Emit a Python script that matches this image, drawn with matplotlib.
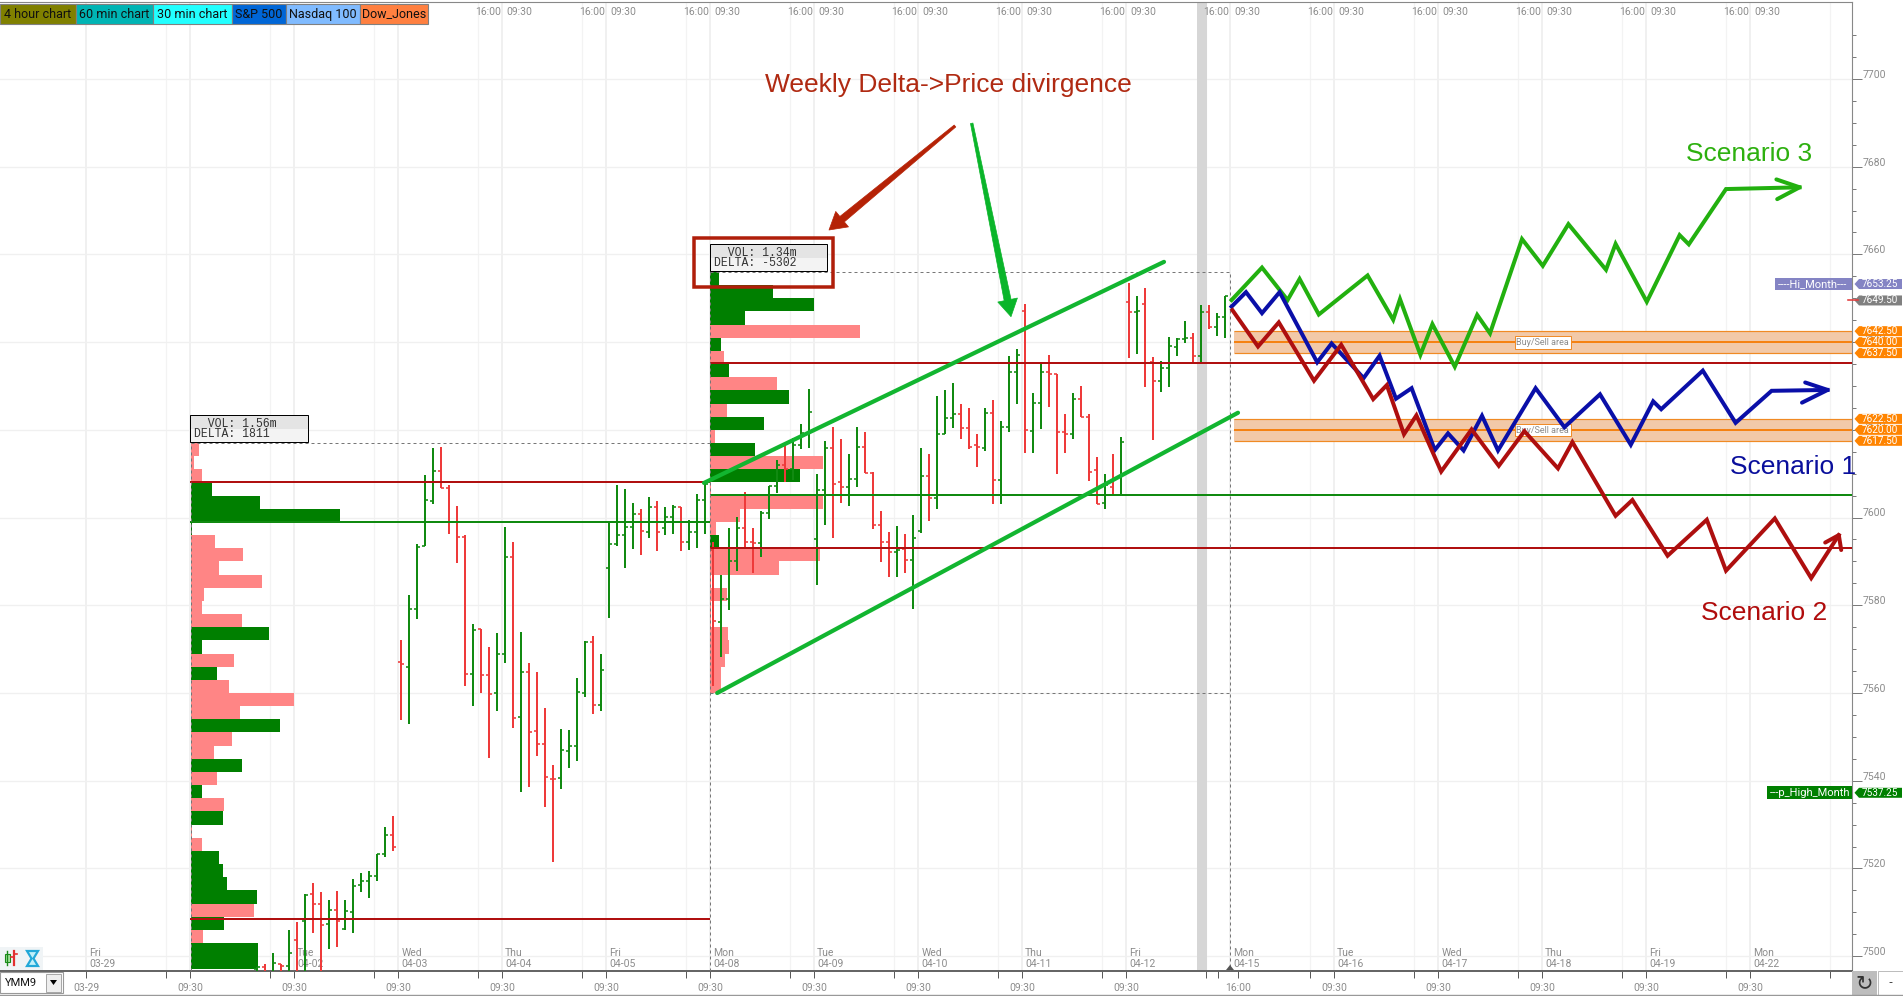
import matplotlib
matplotlib.use("Agg")
import matplotlib.pyplot as plt
from matplotlib.patches import Rectangle, Polygon
import numpy as np

# 30 min bars, 13 per session; the first one seen is bar 8 of the 04-01 session
first_bar = 8
opens = [7497, 7497.5, 7496, 7498.3, 7497.8,
    7503.6, 7508.1, 7514.2, 7512, 7507.3, 7510.5, 7506.2, 7510, 7516.2, 7517.1, 7518.2, 7523.3, 7527.7,
    7567.1, 7566, 7579.2, 7593.6, 7603.7, 7610.7, 7606.8, 7599, 7595.6, 7564.4, 7574.6, 7564, 7560,
    7569, 7591, 7554.5, 7564.8, 7551.3, 7548.4, 7540.4, 7540.6, 7546.8, 7548, 7560, 7571.6, 7557.3,
    7588.4, 7594, 7596.1, 7597.8, 7600.8, 7596.8, 7602.3, 7597.6, 7600.2, 7602.4, 7594.5, 7596.8, 7604.1,
    7592.6, 7576.3, 7581.4, 7590.2, 7597.6, 7594.5, 7594.1, 7601, 7607.3, 7612, 7611, 7616.6, 7619.2,
    7595.1, 7606.3, 7615.9, 7608, 7607, 7608.9, 7616.2, 7610.2, 7598.3, 7594.5, 7592.2, 7592.8, 7590.3,
    7597, 7609.5, 7604.4, 7619, 7622.6, 7623.6, 7620.5, 7616.6, 7615.8, 7623.8, 7608.6, 7620.7, 7633.3,
    7647, 7619.7, 7626.2, 7633.1, 7632.7, 7619.6, 7619.1, 7627, 7623, 7610.8, 7603.3, 7607, 7605.1,
    7649.2, 7646.9, 7648.7, 7635.5, 7631.1, 7634, 7639, 7640.7, 7640.9, 7636.8, 7646.8, 7643.5, 7645.8]
highs = [7497.5, 7498.3, 7500.7, 7498.3, 7505.9,
    7507.8, 7514.2, 7516.6, 7514.7, 7512.9, 7514.9, 7512.9, 7517.5, 7519, 7519.5, 7523.4, 7529.5, 7531.9,
    7572.1, 7582.3, 7593.9, 7609.8, 7615.8, 7616.2, 7607.4, 7602.6, 7596, 7575.8, 7574.6, 7570.5, 7573.7,
    7597.9, 7594.4, 7574, 7566.9, 7564.8, 7556.6, 7543.5, 7551.9, 7551.5, 7563.4, 7571.8, 7572.9, 7569,
    7598.9, 7607.4, 7606.6, 7603.4, 7601.9, 7604.6, 7603.8, 7602.4, 7602.8, 7602.5, 7599.5, 7605.4, 7607.8,
    7594.5, 7587, 7597.6, 7600.1, 7605.8, 7597.6, 7601.6, 7607.3, 7613.1, 7616.6, 7618.1, 7621.3, 7629.2,
    7609.9, 7617.5, 7620.7, 7617.9, 7614.6, 7620.7, 7619.4, 7610.5, 7601.5, 7596.6, 7598.1, 7596.3, 7600.6,
    7615.8, 7614.5, 7627.7, 7629.1, 7630.6, 7626, 7624.9, 7619, 7624.9, 7626.8, 7622, 7636.8, 7638.4,
    7648.6, 7628.3, 7635.2, 7637.1, 7632.7, 7623.6, 7628.3, 7630, 7623.5, 7613.7, 7609.9, 7614.6, 7618.4,
    7653.4, 7650.5, 7652.3, 7636.5, 7635.7, 7641.1, 7640.9, 7644.8, 7642, 7648.5, 7648.5, 7646.6, 7650.6]
lows = [7490, 7490, 7490, 7490, 7490,
    7490, 7490, 7505.3, 7490, 7501.6, 7502.2, 7505.9, 7505.3, 7514.7, 7513.2, 7517.1, 7522.7, 7524,
    7553.9, 7553, 7576.8, 7593.5, 7603.2, 7606.7, 7596.3, 7589.7, 7561.7, 7557, 7560, 7545.1, 7556,
    7566.8, 7552, 7537.4, 7538.5, 7545.6, 7534.1, 7521.5, 7538.2, 7542.9, 7544.5, 7559.2, 7555.2, 7556,
    7577, 7593.6, 7588.4, 7592.9, 7591.5, 7595.4, 7592.3, 7596.1, 7596.3, 7592.3, 7592.5, 7593, 7596.3,
    7561.5, 7568.3, 7578.9, 7587.9, 7593.4, 7587.4, 7590.9, 7599.6, 7605.7, 7608.2, 7608.6, 7615.6, 7615.8,
    7584.6, 7598.3, 7595.4, 7603.4, 7602.7, 7606.9, 7610.1, 7597.3, 7589.9, 7586.5, 7586.5, 7587.4, 7579.1,
    7596.4, 7599.3, 7601.9, 7619, 7620.5, 7617.8, 7615.6, 7611.5, 7615.1, 7603.2, 7603.2, 7619.6, 7625.8,
    7614.8, 7614.8, 7620.3, 7625.1, 7609.9, 7614.8, 7617.8, 7622.9, 7608.4, 7603, 7601.9, 7604.9, 7605.1,
    7636.3, 7637.2, 7629.8, 7617.7, 7628.7, 7629.8, 7636.9, 7639.7, 7635.3, 7635.3, 7643.1, 7641.5, 7641]
closes = [7497.5, 7496, 7498.5, 7497.7, 7500.7,
    7495, 7514, 7512, 7507.1, 7510.5, 7508, 7510.3, 7516, 7517.1, 7518.2, 7523.3, 7527.7, 7524.9,
    7566.5, 7579.2, 7593.2, 7603.9, 7610.7, 7606.8, 7599, 7595.6, 7564.4, 7574.4, 7564, 7559.8, 7569,
    7591, 7554.2, 7564.8, 7551, 7548.4, 7540.8, 7540.4, 7547, 7548, 7560.3, 7571.6, 7557.3, 7565.3,
    7594, 7596, 7597.8, 7600.8, 7597, 7602.3, 7596.7, 7600.2, 7602.4, 7594.5, 7596.8, 7604.1, 7607.6,
    7576.5, 7581.4, 7590.2, 7597.6, 7594.5, 7594.1, 7601, 7607.3, 7612, 7611, 7616.6, 7619.2, 7624.1,
    7606.3, 7615.8, 7607.7, 7607, 7608.9, 7616.2, 7610.2, 7598.3, 7594.5, 7592.2, 7592.6, 7590.3, 7595.4,
    7609.5, 7604.4, 7619, 7622.6, 7623.6, 7620.5, 7616.2, 7616, 7623.8, 7608.6, 7620.7, 7633.3, 7637.1,
    7620, 7626.2, 7633.1, 7632.7, 7619.6, 7619.1, 7627, 7623, 7610.5, 7603.1, 7607.4, 7605.1, 7617.3,
    7646.9, 7647, 7635.3, 7631.1, 7634, 7639.1, 7640.7, 7640.9, 7636.8, 7646.8, 7643.5, 7645.8, 7650.6]

# weekly volume profiles, thousands per 3 point row, top row first
week1_top = 7617
week1_vol = [8.6, 3, 10.7, 20.7, 69.6, 149.6, 1.5, 24.6, 52.5, 28.6, 70.7, 13.6, 10.7, 50.7, 78.6, 11.4, 43.6, 25.7,
             38.6, 103.6, 49.6, 89.6, 41.4, 23.6, 51.4, 26.4, 10.7, 33.6, 32.5, 1.5, 10.7, 28.6, 32.5, 35.7, 65.7,
             63.6, 33.6, 12.5, 67.5, 67.5]
week1_up = [0, 0, 0, 1, 1, 1, 1, 0, 0, 0, 0, 0, 0, 0, 1, 1, 0, 1, 0, 0, 0, 1, 0, 0, 1, 0, 1, 0, 1, 0, 0, 1, 1, 1, 1,
            0, 1, 0, 1, 1]
week2_top = 7656
week2_vol = [8.6, 62.9, 103.6, 34.6, 149.6, 10.7, 13.6, 18.6, 66.4, 78.6, 16.4, 53.6, 4.6, 44.6, 112.5, 89.6, 1,
             112.5, 29.6, 5.7, 8.6, 109.6, 68.6, 1, 17, 1, 1, 18, 19, 15, 11, 11]
week2_up = [1, 1, 1, 1, 0, 1, 0, 1, 0, 1, 0, 1, 0, 1, 0, 1, 0, 0, 0, 0, 1, 0, 0, 0, 0, 0, 0, 0, 0, 0, 0, 0]

# drawn scenarios: bar position, price
green_x = [130.2, 134, 137.2, 138.7, 141.1, 147.2, 150.4, 151.25, 153.8, 155.3, 158.1, 160.9, 162.5, 166.5, 169.1,
           172.3, 177, 178.2, 182.1, 186.2, 187.35, 192, 201.2]
green_y = [7649.6, 7657, 7649.6, 7654.4, 7646.3, 7655.2, 7645.1, 7649.8, 7637.1, 7644.1, 7634.4, 7646.2, 7642,
           7663.5, 7657.4, 7666.9, 7656.5, 7662.4, 7649.2, 7664.4, 7662.3, 7674.9, 7675.3]
green_head_x = [198.3, 201.2, 198.4]
green_head_y = [7677.1, 7675.3, 7672.6]
blue_x = [130.2, 132, 134, 136.2, 140.9, 142.7, 146.7, 148.7, 150.75, 152.7, 155.6, 157.25, 159.2, 161.5, 163.5,
          168.2, 171.8, 176.25, 180.1, 182.9, 183.9, 189.1, 193.2, 197.7, 204.7]
blue_y = [7648.1, 7651.4, 7646.6, 7651.4, 7635.4, 7639.7, 7631.8, 7636.9, 7627.1, 7629.5, 7615.4, 7619.2, 7615.3,
          7623.2, 7615.3, 7629.5, 7620.6, 7628.1, 7616.6, 7626.5, 7624.7, 7633.5, 7621.6, 7628.9, 7629.1]
blue_head_x = [201.9, 204.7, 201.5]
blue_head_y = [7630.8, 7629.1, 7626.2]
red_x = [130.3, 133.5, 136.1, 140.5, 143.9, 147.9, 149.6, 151.75, 153.3, 156.4, 160.2, 163.6, 166.8, 171, 172.8,
         178.2, 180.3, 184.7, 189.6, 192, 198.1, 202.65, 206.1]
red_y = [7647.3, 7639, 7644.5, 7631.2, 7639.4, 7627, 7630.2, 7619, 7623.3, 7610.5, 7620.1, 7611.8, 7619.7, 7611.2,
         7617.2, 7600.4, 7604, 7591.3, 7599.5, 7587.9, 7599.8, 7586.2, 7596]
red_head_x = [204.4, 206.1, 206.4]
red_head_y = [7594.3, 7596, 7592.6]

channel_x = [[64.25, 121.75], [65.9, 131]]
channel_y = [[7607.9, 7658.3], [7560, 7623.9]]

week1_red_levels = [7608, 7508.4]
week1_green_levels = [7599]
week2_red_levels = [7635.3, 7593.1]
week2_green_levels = [7605.2]
band_centers = [7640, 7620]

# one session per entry, from 03-29 on
day_names = ["Fri", "Mon", "Tue", "Wed", "Thu", "Fri", "Mon", "Tue", "Wed", "Thu", "Fri", "Mon", "Tue", "Wed", "Thu",
             "Fri", "Mon"]
day_dates = ["03-29", "04-01", "04-02", "04-03", "04-04", "04-05", "04-08", "04-09", "04-10", "04-11", "04-12",
             "04-15", "04-16", "04-17", "04-18", "04-19", "04-22"]
session_starts = [13 * k for k in range(-1, 16)]
session_ends = [s - 3 for s in session_starts]

legend_names = ["4 hour chart", "60 min chart", "30 min chart", "S&P 500", "Nasdaq 100", "Dow_Jones"]
legend_colors = ["#808000", "#00B4B4", "#22FFFF", "#0066D6", "#80BBFF", "#FF8040"]
legend_edges = [0, 76, 153, 232, 286, 360, 428]

C_UP = "#118A11"
C_DOWN = "#EE3A3A"
C_PROFILE_UP = "#007F00"
C_PROFILE_DOWN = "#FF8585"
C_LEVEL_RED = "#B01010"
C_LEVEL_GREEN = "#108A10"
C_CHANNEL = "#12B530"
C_TICK = "#8C8C8C"
PX = 0.72  # one pixel in points at dpi 100
UI_FONT = "Roboto"

W, H = 1903, 996
AX_RIGHT, AX_TOP, AX_BOTTOM = 1852, 2, 970.5

fig = plt.figure(figsize=(W / 100, H / 100), dpi=100, facecolor="white")
ax = fig.add_axes([0, (H - AX_BOTTOM) / H, AX_RIGHT / W, (AX_BOTTOM - AX_TOP) / H])
ax.set_xlim(-23.75, 207.75)
ax.set_ylim(7496.73, 7717.55)

# grid
for s in session_starts:
    ax.axvline(s, color="#F0F0F0", lw=2 * PX, zorder=1)
for s in session_ends[1:] + [205]:
    ax.axvline(s, color="#F3F3F3", lw=1.2 * PX, zorder=1)
for p in range(7500, 7710, 20):
    ax.axhline(p, color="#F0F0F0", lw=1.3 * PX, zorder=1)
ax.axvspan(125.9, 127.1, color="#D6D6D6", lw=0, zorder=1.5)

# session labels inside the plot
for s, name, date in zip(session_starts, day_names, day_dates):
    ax.text(s + 0.4, 7500.8, name, fontsize=7.5, color=C_TICK, family=UI_FONT, va="center", zorder=1.6)
    ax.text(s + 0.4, 7498.1, date, fontsize=7.5, color=C_TICK, family=UI_FONT, va="center", zorder=1.6)

# labels along the top edge
top_y = 1 - 10 / (AX_BOTTOM - AX_TOP)
for s in session_ends:
    if 36 <= s <= 192:
        ax.text(s - 0.4, top_y, "16:00", fontsize=7.5, color=C_TICK, family=UI_FONT, va="center",
                transform=ax.get_xaxis_transform(), zorder=1.6)
for s in session_starts:
    if 39 <= s <= 195:
        ax.text(s + 0.5, top_y, "09:30", fontsize=7.5, color=C_TICK, family=UI_FONT, va="center",
                transform=ax.get_xaxis_transform(), zorder=1.6)

# volume profiles
for top, vols, ups, x0 in [(week1_top, week1_vol, week1_up, 0.1), (week2_top, week2_vol, week2_up, 65.05)]:
    rows = top - 1.5 - 3 * np.arange(len(vols))
    colors = [C_PROFILE_UP if u else C_PROFILE_DOWN for u in ups]
    ax.barh(rows, np.array(vols) / 8, height=3, left=x0, color=colors, lw=0, zorder=2)

# buy/sell areas
for c in band_centers:
    ax.fill_between([130.56, 207.75], c - 2.5, c + 2.5, color="#F2C9A8", lw=0, zorder=2)
    ax.hlines([c - 2.5, c + 2.5], 130.56, 207.75, color="#F08A24", lw=1.2 * PX, zorder=2.1)
    ax.hlines(c, 130.56, 207.75, color="#F58212", lw=2 * PX, zorder=2.1)
    ax.text(169.1, c - 0.1, "Buy/Sell area", fontsize=6.5, color="#8C8C8C", family=UI_FONT, ha="center", va="center",
            bbox=dict(fc="white", ec="#F08A24", lw=0.7, pad=1.2), zorder=2.2)

# OHLC bars
idx = np.arange(len(opens)) + first_bar + 0.4
for x, o, h, l, c in zip(idx, opens, highs, lows, closes):
    col = C_UP if c > o else C_DOWN
    ax.plot([x, x], [l, h], color=col, lw=2 * PX, solid_capstyle="butt", zorder=3)
    ax.plot([x - 0.36, x], [o, o], color=col, lw=1.6 * PX, solid_capstyle="butt", zorder=3)
    ax.plot([x, x + 0.36], [c, c], color=col, lw=1.6 * PX, solid_capstyle="butt", zorder=3)

# key levels
ax.hlines(week1_red_levels, 0, 65, color=C_LEVEL_RED, lw=2 * PX, zorder=4)
ax.hlines(week1_green_levels, 0, 65, color=C_LEVEL_GREEN, lw=2 * PX, zorder=4)
ax.hlines(week2_red_levels, 65, 207.75, color=C_LEVEL_RED, lw=2 * PX, zorder=4)
ax.hlines(week2_green_levels, 65, 207.75, color=C_LEVEL_GREEN, lw=2 * PX, zorder=4)

# weekly ranges
dash = dict(color="#777777", lw=1 * PX, ls=(0, (3, 3)), zorder=4.5)
ymin = ax.get_ylim()[0]
ax.plot([0.1, 65], [week1_top, week1_top], **dash)
ax.plot([0.1, 0.1], [ymin, week1_top], **dash)
ax.plot([65, 65], [ymin, week2_top], **dash)
ax.plot([65, 130, 130], [week2_top, week2_top, ymin], **dash)
ax.plot([65, 130], [week2_top - 96, week2_top - 96], **dash)

for xs, ys in zip(channel_x, channel_y):
    ax.plot(xs, ys, color=C_CHANNEL, lw=4.2 * PX, solid_capstyle="round", zorder=5)

for xs, ys, hx, hy, col in [(green_x, green_y, green_head_x, green_head_y, "#22B00F"),
                            (blue_x, blue_y, blue_head_x, blue_head_y, "#0A0FA8"),
                            (red_x, red_y, red_head_x, red_head_y, "#AE0F0F")]:
    ax.plot(xs, ys, color=col, lw=4 * PX, solid_joinstyle="miter", zorder=6)
    ax.plot(hx, hy, color=col, lw=4 * PX, solid_capstyle="round", zorder=6)

# axis furniture
major_ticks = [-13] + session_starts[1:11] + [131] + session_starts[12:]
major_labels = ["03-29"] + ["09:30"] * 10 + ["16:00"] + ["09:30"] * 5
ax.set_xticks(major_ticks, major_labels)
ax.set_xticks(session_ends[1:] + [205, 128.5], minor=True)
ax.tick_params(axis="x", which="major", length=5, width=0.7, color="#555555", labelsize=7.5, labelcolor=C_TICK, pad=4)
ax.tick_params(axis="x", which="minor", length=5, width=0.7, color="#555555")
for lab in ax.get_xticklabels():
    lab.set_family(UI_FONT)
ax.yaxis.tick_right()
ax.set_yticks(list(range(7500, 7710, 20)), [""] * 11)
ax.set_yticks(list(range(7500, 7715, 5)), minor=True)
ax.tick_params(axis="y", which="major", length=7.5, width=0.7, color="#777777")
ax.tick_params(axis="y", which="minor", length=3, width=0.7, color="#777777")
for p in range(7500, 7710, 20):
    ax.text(1863 / AX_RIGHT, p + 0.95, str(p), fontsize=7.5, color=C_TICK, family=UI_FONT, va="center",
            transform=ax.get_yaxis_transform(), clip_on=False)
ax.spines["left"].set_visible(False)
ax.spines["top"].set_color("#888888")
ax.spines["right"].set_color("#888888")
ax.spines["bottom"].set_color("#666666")
ax.spines["bottom"].set_linewidth(2 * PX)


def flag(price, text, color, text_color="white"):
    tr = ax.get_yaxis_transform()
    dy = 5 / 4.386
    xs = np.array([1854.5, 1859, 1902, 1902, 1859]) / AX_RIGHT
    ys = [price, price + dy, price + dy, price - dy, price - dy]
    ax.add_patch(Polygon(np.column_stack([xs, ys]), closed=True, fc=color, lw=0, transform=tr, clip_on=False, zorder=7))
    ax.text(1862 / AX_RIGHT, price, text, fontsize=7.2, color=text_color, family=UI_FONT, va="center", transform=tr,
            clip_on=False, zorder=8)


def tag(price, text, color, left):
    tr = ax.get_yaxis_transform()
    ax.add_patch(Rectangle((left / AX_RIGHT, price - 1.45), 1 - left / AX_RIGHT, 2.9, fc=color, lw=0, transform=tr,
                           clip_on=False, zorder=7))
    ax.text(left / AX_RIGHT + 0.0015, price, text, fontsize=8, color="white", family=UI_FONT, va="center", transform=tr,
            zorder=8)


flag(7653.25, "7653.25", "#8484C4")
flag(7649.5, "7649.50", "#808080")
ax.plot([1848 / AX_RIGHT, 1858 / AX_RIGHT], [7649.5, 7649.5], color="#E23C3C", lw=1.6 * PX,
        transform=ax.get_yaxis_transform(), clip_on=False, zorder=8)
for p in [7642.5, 7640, 7637.5, 7622.5, 7620, 7617.5]:
    flag(p, f"{p:.2f}", "#FF8400")
flag(7537.25, "7537.25", "#008000")
tag(7653.25, "----Hi_Month---", "#8484C4", 1775)
tag(7537.25, "---p_High_Month", "#008000", 1767)

# pixel overlay for the toolbar, legend and hand drawn notes
ov = fig.add_axes([0, 0, 1, 1], facecolor="none")
ov.set_xlim(0, W)
ov.set_ylim(H, 0)
ov.axis("off")

for name, col, x0, x1 in zip(legend_names, legend_colors, legend_edges[:-1], legend_edges[1:]):
    ov.add_patch(Rectangle((x0, 3.5), x1 - x0 - 0.5, 20.5, fc=col, ec="#808080", lw=0.8))
    ov.text((x0 + x1) / 2, 14, name, fontsize=9, color="#101010", family=UI_FONT, ha="center", va="center")

for x0, y0, l1, l2 in [(190.4, 415, "  VOL: 1.56m", "DELTA: 1811"), (710, 244, "  VOL: 1.34m", "DELTA: -5302")]:
    ov.add_patch(Rectangle((x0, y0), 117.3, 13.5, fc="#E4E4E4", lw=0))
    ov.add_patch(Rectangle((x0, y0 + 13.5), 117.3, 13.5, fc="#F3F3F3", lw=0))
    ov.add_patch(Rectangle((x0, y0), 117.3, 27, fc="none", ec="black", lw=1 * PX))
    ov.text(x0 + 3.5, y0 + 8.7, l1, fontsize=8.3, color="#333333", family="Liberation Mono", va="center")
    ov.text(x0 + 3.5, y0 + 18.8, l2, fontsize=8.3, color="#333333", family="Liberation Mono", va="center")
ov.add_patch(Rectangle((694, 238), 139, 48.5, fc="none", ec="#B01E0A", lw=3.5 * PX))

ov.text(765, 91.5, "Weekly Delta->Price divirgence", fontsize=19, color="#B02A12", family="Liberation Sans", va="baseline")
ov.text(1686.5, 161, "Scenario 3", fontsize=19, color="#2DB00F", family="Liberation Sans", va="baseline")
ov.text(1729.5, 474, "Scenario 1", fontsize=19, color="#0A0F9C", family="Liberation Sans", va="baseline")
ov.text(1701, 620, "Scenario 2", fontsize=19, color="#B00C0C", family="Liberation Sans", va="baseline")


def taper_arrow(start, tip, color, w0=2.5, w1=7, head_w=20, head_l=17):
    start, tip = np.array(start, float), np.array(tip, float)
    u = (tip - start) / np.hypot(*(tip - start))
    n = np.array([-u[1], u[0]])
    neck = tip - u * head_l
    pts = [start + n * w0 / 2, neck + n * w1 / 2, neck + n * head_w / 2, tip, neck - n * head_w / 2,
           neck - n * w1 / 2, start - n * w0 / 2]
    ov.add_patch(Polygon(pts, closed=True, fc=color, ec=color, lw=0.5, joinstyle="round"))


taper_arrow((955, 126), (829, 230), "#B52206")
taper_arrow((971.7, 123.3), (1011, 316.7), "#0AB52A")

# toolbar icons
ov.add_patch(Rectangle((0, 947), 43, 23, fc="#F0F4F6", lw=0))
ov.plot([7, 7], [951, 965], color="#1A8A1A", lw=1)
ov.add_patch(Rectangle((4.5, 954), 5, 8, fc="#A8E6A0", ec="#1A8A1A", lw=0.8))
ov.plot([13.5, 13.5], [951, 965], color="#E23030", lw=1.6)
ov.plot([10.5, 13.5], [957, 957], color="#E23030", lw=1.2)
ov.plot([13.5, 16.5], [954, 954], color="#E23030", lw=1.2)
ov.add_patch(Polygon([(27, 951), (38, 951), (33.5, 958.5), (38, 966), (27, 966), (31.5, 958.5)], closed=True,
                     fc="#BFF0FA", ec="#22A8D8", lw=1.6))

ov.add_patch(Rectangle((0, 972), 62.5, 21, fc="white", ec="#999999", lw=0.8))
ov.text(5, 982.5, "YMM9", fontsize=8, color="#111111", family=UI_FONT, va="center")
ov.add_patch(Rectangle((46, 973.5), 15, 18, fc="#EEEEEE", ec="#999999", lw=0.6))
ov.add_patch(Polygon([(50, 980), (57, 980), (53.5, 985)], closed=True, fc="black", lw=0))

ov.plot([0, W], [995, 995], color="#999999", lw=1.4 * PX)
ov.add_patch(Rectangle((1852, 971), 25, 25, fc="#BDBDBD", lw=0))
ov.text(1864.5, 983, "\u21bb", fontsize=15, color="#333333", family="DejaVu Sans", ha="center", va="center")
ov.add_patch(Rectangle((1878, 971), 24.5, 24, fc="white", ec="#BBBBBB", lw=0.7))
ov.text(1890, 982, "-", fontsize=8, color="#222222", ha="center", va="center")
ov.add_patch(Polygon([(1226, 970), (1234, 970), (1230, 965)], closed=True, fc="#555555", lw=0))

fig.savefig("out.png", dpi=100)
